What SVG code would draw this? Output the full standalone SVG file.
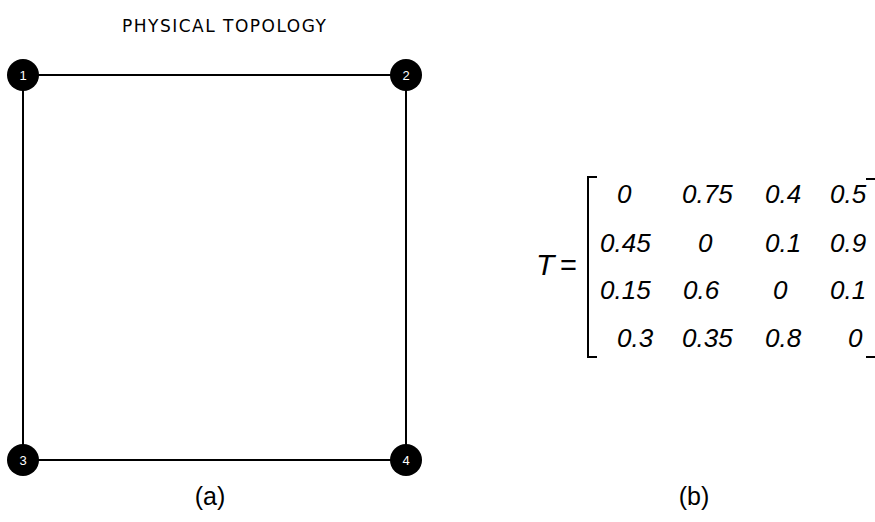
<svg xmlns="http://www.w3.org/2000/svg" width="875" height="522" viewBox="0 0 875 522">
<style>
.edge{stroke:#000;stroke-width:2;fill:none}
.node circle{fill:#000}
.node text{fill:#fff;font-family:"Liberation Sans",Arial,sans-serif;font-size:13px;text-anchor:middle}
.title{font-family:"DejaVu Sans",Verdana,sans-serif;font-size:17px;letter-spacing:1.5px;fill:#000}
.cap{font-family:"Liberation Sans",Arial,sans-serif;font-size:25px;fill:#000;text-anchor:middle}
.m{font-family:"Liberation Sans",Arial,sans-serif;font-size:26px;font-style:italic;fill:#000}
.br{stroke:#000;stroke-width:2;fill:none}
</style>
<rect width="875" height="522" fill="#fff"/>
<text class="title" x="122" y="32">PHYSICAL TOPOLOGY</text>
<g id="connectors">
<line class="edge" x1="23" y1="75" x2="406" y2="75"/>
<line class="edge" x1="23" y1="75" x2="23" y2="460"/>
<line class="edge" x1="406" y1="75" x2="406" y2="460"/>
<line class="edge" x1="23" y1="460" x2="406" y2="460"/>
</g>
<g id="node1" class="node"><circle cx="23" cy="75" r="16"/><text x="23" y="80">1</text></g>
<g id="node2" class="node"><circle cx="406" cy="75" r="16"/><text x="406" y="80">2</text></g>
<g id="node3" class="node"><circle cx="23" cy="460" r="16"/><text x="23" y="465">3</text></g>
<g id="node4" class="node"><circle cx="406" cy="460" r="16"/><text x="406" y="465">4</text></g>
<text class="cap" x="210" y="505">(a)</text>
<text class="cap" x="694" y="505">(b)</text>
<g id="matrix">
<text class="m" x="536" y="275" style="font-size:30px">T</text>
<text class="m" x="560" y="275" style="font-size:29px;font-style:normal">=</text>
<path class="br" d="M597,177 H588 V357 H597"/>
<path class="br" d="M866,179 H877 V357 H866"/>
<text class="m" x="617" y="203">0</text>
<text class="m" x="682" y="203">0.75</text>
<text class="m" x="765" y="203">0.4</text>
<text class="m" x="830" y="203">0.5</text>
<text class="m" x="600" y="252">0.45</text>
<text class="m" x="698" y="252">0</text>
<text class="m" x="765" y="252">0.1</text>
<text class="m" x="830" y="252">0.9</text>
<text class="m" x="600" y="299">0.15</text>
<text class="m" x="683" y="299">0.6</text>
<text class="m" x="773" y="299">0</text>
<text class="m" x="830" y="299">0.1</text>
<text class="m" x="617" y="347">0.3</text>
<text class="m" x="682" y="347">0.35</text>
<text class="m" x="765" y="347">0.8</text>
<text class="m" x="848" y="347">0</text>
</g>
</svg>
